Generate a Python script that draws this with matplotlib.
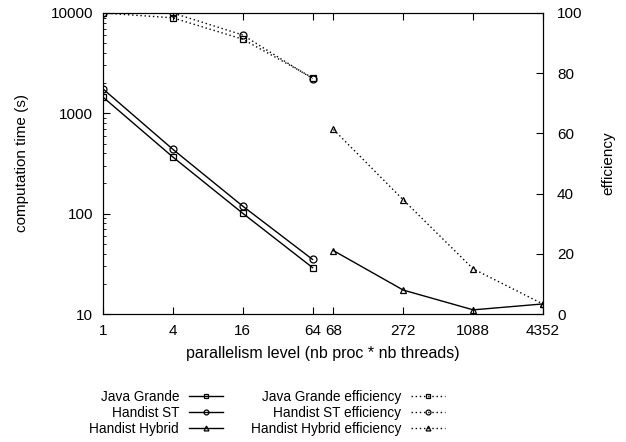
import matplotlib
matplotlib.use("Agg")
import matplotlib.pyplot as plt
from matplotlib.ticker import LogLocator, NullFormatter

plt.rcParams['font.family'] = ['Liberation Sans', 'DejaVu Sans']
plt.rcParams['font.size'] = 11

# x categories (gnuplot-like index axis with a gap between 64 and 68)
levels = ["1", "4", "16", "64", "68", "272", "1088", "4352"]
pos_single = [0, 1, 2, 3]
pos_hybrid = [3.3, 4.3, 5.3, 6.3]

# computation time (s)
jg_time = [1450, 367, 101, 29]
st_time = [1750, 438, 119, 35]
hy_time = [42.8, 17.3, 11.0, 12.6]

# efficiency (%)
jg_eff = [100, 98.4, 91.3, 78.5]
st_eff = [100, 100, 92.7, 78.2]
hy_eff = [61.3, 37.9, 15.0, 3.3]

fig = plt.figure(figsize=(6.26, 4.42), dpi=100)
ax = fig.add_axes([103/626, 128/442, 440/626, 301/442])
ax2 = ax.twinx()

mk = dict(color='k', lw=1, ms=5, mfc='none', mew=0.9)
dot = (0, (1, 2))

h1, = ax.plot(pos_single, jg_time, marker='s', label='Java Grande', **mk)
h2, = ax.plot(pos_single, st_time, marker='o', label='Handist ST', **mk)
h3, = ax.plot(pos_hybrid, hy_time, marker='^', label='Handist Hybrid', **mk)
h4, = ax2.plot(pos_single, jg_eff, marker='s', ls=dot, label='Java Grande efficiency', **mk)
h5, = ax2.plot(pos_single, st_eff, marker='o', ls=dot, label='Handist ST efficiency', **mk)
h6, = ax2.plot(pos_hybrid, hy_eff, marker='^', ls=dot, label='Handist Hybrid efficiency', **mk)

ax.set_yscale('log')
ax.set_ylim(10, 10000)
ax.set_yticks([10, 100, 1000, 10000])
ax.set_yticklabels(["10", "100", "1000", "10000"])
ax.yaxis.set_minor_locator(LogLocator(base=10, subs=range(2, 10)))
ax.yaxis.set_minor_formatter(NullFormatter())
ax.set_xlim(0, 6.3)
ax.set_xticks(pos_single + pos_hybrid)
ax.set_xticklabels(levels)
ax.tick_params(axis='x', direction='in', top=True, length=5, pad=7)
ax.tick_params(axis='y', which='major', direction='in', length=5, pad=7)
ax.tick_params(axis='y', which='minor', direction='in', length=2.5)

ax2.set_ylim(0, 100)
ax2.set_yticks([0, 20, 40, 60, 80, 100])
ax2.tick_params(axis='y', direction='in', length=5, pad=10)

ax.set_ylabel("computation time (s)", labelpad=16)
ax2.set_ylabel("efficiency", labelpad=14)
ax.set_xlabel("parallelism level (nb proc * nb threads)", labelpad=6, fontsize=11.5)

fig.legend(handles=[h1, h2, h3, h4, h5, h6], ncol=2, markerfirst=False,
           frameon=False, loc='upper center', bbox_to_anchor=(0.427, 0.134),
           fontsize=9.8, markerscale=0.7,
           handlelength=2.5, handletextpad=0.75, columnspacing=2.0,
           labelspacing=0.17, borderpad=0)

fig.savefig("out.png", dpi=100)
